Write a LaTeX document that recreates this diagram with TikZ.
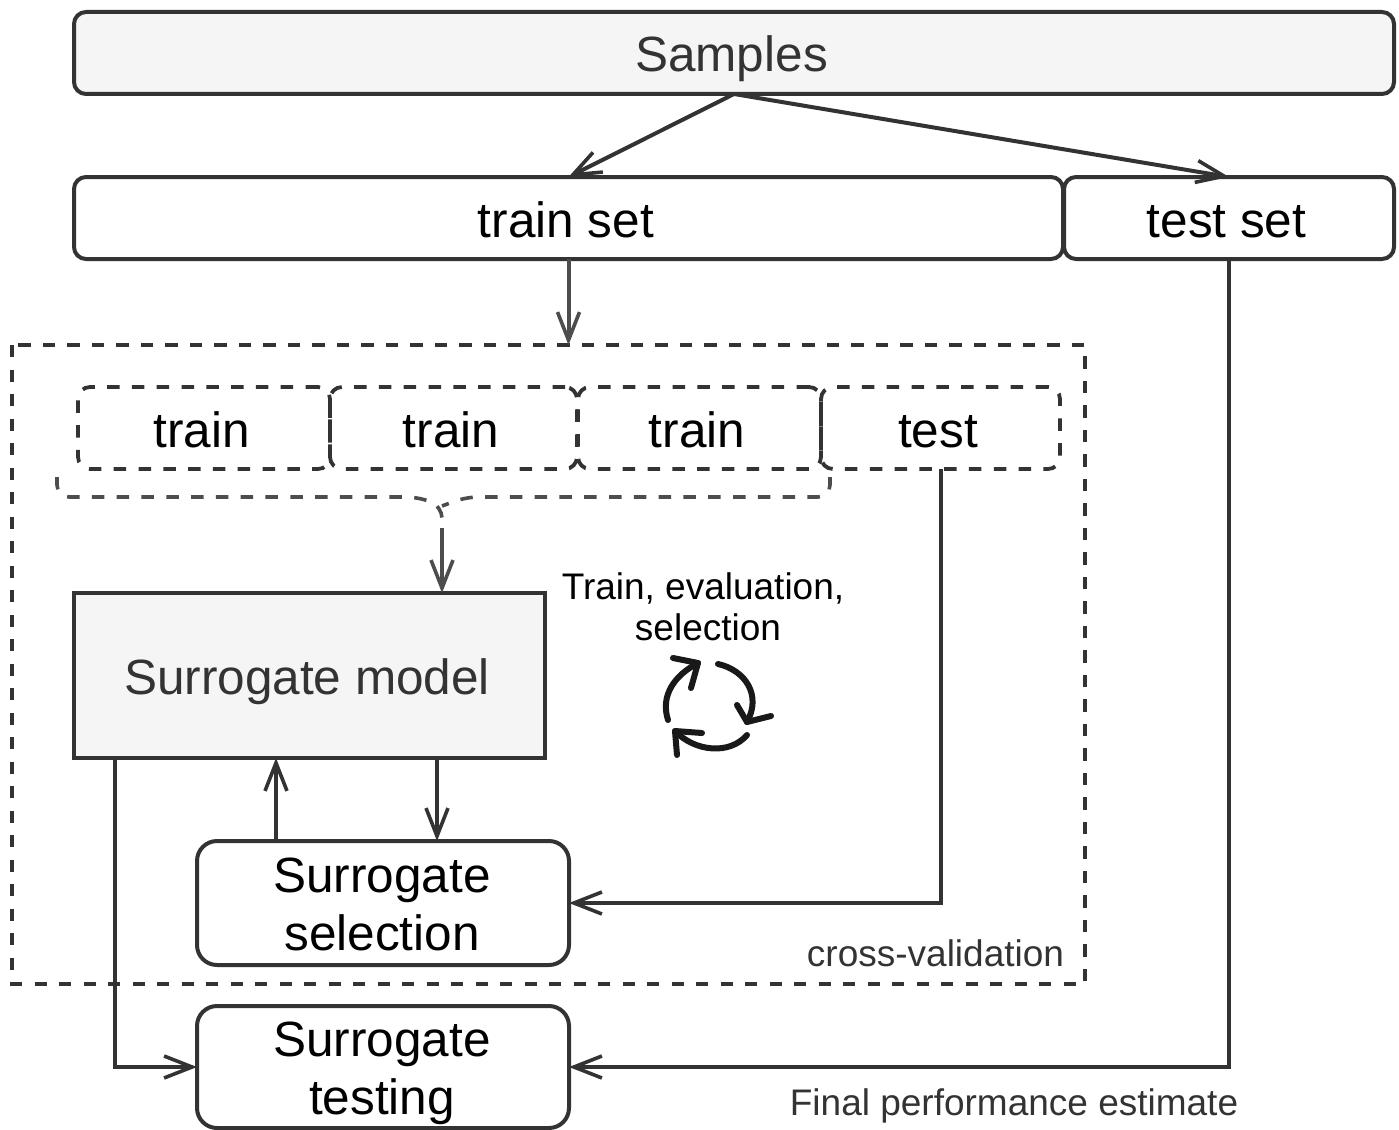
\documentclass[tikz,border=0pt]{standalone}
\usepackage{fontspec}
\setmainfont{Liberation Sans}
\usetikzlibrary{arrows.meta}
\definecolor{linegray}{HTML}{333333}
\definecolor{arrowgray}{HTML}{4D4D4D}
\definecolor{fillgray}{HTML}{F5F5F5}
\newcommand{\pad}{\hspace*{5pt}}
\tikzset{
	box/.style={draw=linegray, line width=4pt, rounded corners=12pt, inner sep=0pt, outer sep=0pt, align=center, font=\fontsize{49.5}{57.5}\selectfont},
	oneline/.style={text height=38pt, text depth=0pt},
	twolines/.style={rounded corners=20pt, minimum width=372pt, text height=94pt, text depth=0pt},
	fold/.style={box, oneline, dash pattern=on 12.5pt off 12.3pt, line width=3.8pt, minimum height=82pt},
	note/.style={inner sep=0pt, outer sep=0pt, align=center, font=\fontsize{37}{41}\selectfont},
	arrow/.style={draw=linegray, line width=4pt, -{Straight Barb[length=28pt, width=22pt, line width=3.6pt]}},
	spin/.style={draw=black!90, line width=6pt, line cap=round, line join=round},
}
\begin{document}
\begin{tikzpicture}[x=1pt, y=-1pt]
\useasboundingbox (0,0) rectangle (1399,1129);
\node[box, oneline, fill=fillgray, text=linegray, minimum width=1320pt, minimum height=82pt] (samples) at (734,53) {Samples\pad};
\node[box, oneline, minimum width=989pt, minimum height=82pt] (trainset) at (568.5,218) {train set\pad};
\node[box, oneline, minimum width=330pt, minimum height=82pt] (testset) at (1229,218) {test set\pad};

\draw[linegray, line width=3.8pt, dash pattern=on 12.3pt off 12.2pt] (12,345) rectangle (1085,984);
\coordinate (cvtop) at (568.5,345);
\foreach \name/\x/\w/\txt in {foldA/204/252/train, foldB/453.5/247/train, foldC/699.5/243/train, foldD/940.5/239/test}
	\node[fold, minimum width=\w pt] (\name) at (\x,428) {\txt\pad};

\draw[arrowgray, line width=3.6pt, dash pattern=on 12.5pt off 12.3pt, rounded corners=12pt] (57,477) -- (57,497) -- (418,497) -- (442,506) -- (442,519);
\draw[arrowgray, line width=3.6pt, dash pattern=on 12.5pt off 12.3pt, rounded corners=12pt] (830,477) -- (830,497) -- (466,497) -- (442,506);
\coordinate (bracetip) at (442,528);

\node[box, oneline, rounded corners=0pt, fill=fillgray, text=linegray, minimum width=471pt, minimum height=165pt] (model) at (309.5,675.5) {Surrogate model\pad};
\node[box, twolines, minimum height=124pt] (selection) at (383,903) {Surrogate\hspace*{2pt}\\selection\hspace*{2pt}};
\node[box, twolines, minimum height=122pt] (testing) at (383,1067) {Surrogate\hspace*{2pt}\\testing\hspace*{2pt}};

\draw[arrow] (samples.south) -- (trainset.north);
\draw[arrow] (samples.south) -- (testset.north);
\draw[arrow, draw=arrowgray] (trainset.south) -- (cvtop);
\draw[arrow, draw=arrowgray] (bracetip) -- ([xshift=132.5pt]model.north);
\draw[arrow] ([xshift=-107pt]selection.north) -- ([xshift=-33.5pt]model.south);
\draw[arrow] ([xshift=127.5pt]model.south) -- ([xshift=54pt]selection.north);
\draw[arrow] (foldD.south) |- (selection.east);
\draw[arrow] (testset.south) |- (testing.east);
\draw[arrow] ([xshift=-194.5pt]model.south) |- (testing.west);

\node[note] (loop) at (703,607) {Train, evaluation,\\\hspace*{10pt}selection};
\node[note, text=linegray, anchor=east] (cv) at (1064,953) {cross-validation};
\node[note, text=linegray] (final) at (1014,1106) {Final performance estimate};

\draw[spin] (668,720) .. controls (660,695) and (675,675) .. (698,663);
\draw[spin] (673,658) -- (698,663) -- (691,688);
\draw[spin] (718,664) .. controls (745,670) and (762,695) .. (747,722);
\draw[spin] (737,705) -- (747,722) -- (771,716);
\draw[spin] (747,735) .. controls (730,755) and (695,752) .. (675,731);
\draw[spin] (702,733) -- (675,731) -- (677,755);
\end{tikzpicture}
\end{document}
